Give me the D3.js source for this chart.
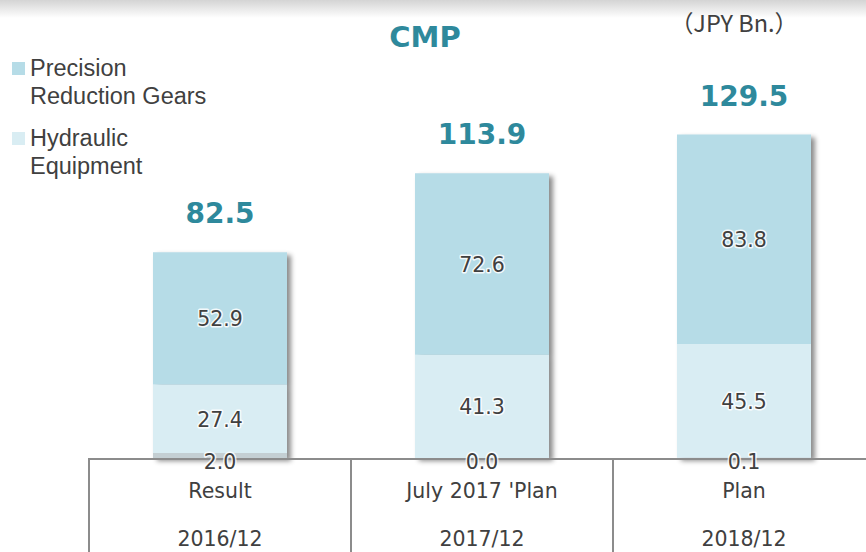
<!DOCTYPE html>
<html lang="en">
<head>
<meta charset="UTF-8">
<title>CMP</title>
<script src="https://d3js.org/d3.v7.min.js"></script>
<style>
  body { margin: 0; background: #fff; }
  svg { display: block; }
  text { fill: #404040; }
</style>
</head>
<body>
<div id="chart"></div>
<script>
// chart data
const categories = ["Result", "July 2017 'Plan", "Plan"];
const periods = ["2016/12", "2017/12", "2018/12"];
const others = [2.0, 0.0, 0.1];
const hydraulic = [27.4, 41.3, 45.5];
const precision = [52.9, 72.6, 83.8];
const totals = [82.5, 113.9, 129.5];

const W = 866, H = 552;
const baseY = 458;
const teal = "#2e899c";
const colPrecision = "#b6dce7";
const colHydraulic = "#d9edf3";
const colOthers = "#c4cfd3";

const svg = d3.select("#chart").append("svg")
  .attr("width", W).attr("height", H);

const defs = svg.append("defs");
const grad = defs.append("linearGradient").attr("id", "topband")
  .attr("x1", 0).attr("y1", 0).attr("x2", 0).attr("y2", 1);
grad.append("stop").attr("offset", "0%").attr("stop-color", "#d4d4d4");
grad.append("stop").attr("offset", "100%").attr("stop-color", "#ffffff");

const shadow = defs.append("filter").attr("id", "shadow")
  .attr("x", "-10%").attr("y", "-10%").attr("width", "130%").attr("height", "130%");
shadow.append("feDropShadow")
  .attr("dx", 4).attr("dy", 3).attr("stdDeviation", 2.5)
  .attr("flood-color", "#000").attr("flood-opacity", 0.45);

// grey band at the very top
svg.append("rect").attr("x", 0).attr("y", 0).attr("width", W).attr("height", 18)
  .attr("fill", "url(#topband)");

const x = d3.scaleBand().domain(categories).range([89, 875]).paddingInner(0).paddingOuter(0);
const y = d3.scaleLinear().domain([0, 160]).range([baseY, baseY - 400]);
const barW = 134;

const rows = categories.map((c, i) => ({
  cat: c, others: others[i], hydraulic: hydraulic[i], precision: precision[i], total: totals[i]
}));
const keys = ["others", "hydraulic", "precision"];
const colors = { others: colOthers, hydraulic: colHydraulic, precision: colPrecision };
const series = d3.stack().keys(keys)(rows);

const barX = d => x(d.data.cat) + (x.bandwidth() - barW) / 2;

// bars (shadowed group)
const bars = svg.append("g").attr("filter", "url(#shadow)");
series.forEach(s => {
  bars.selectAll(null).data(s).enter().append("rect")
    .attr("x", barX)
    .attr("y", d => y(d[1]))
    .attr("width", barW)
    .attr("height", d => Math.max(0, y(d[0]) - y(d[1])))
    .attr("fill", colors[s.key]);
});

// table lines
const grid = svg.append("g").attr("stroke", "#8c8c8c").attr("stroke-width", 2);
grid.append("line").attr("x1", 88).attr("x2", W).attr("y1", baseY + 1).attr("y2", baseY + 1);
grid.selectAll(null).data(categories).enter().append("line")
  .attr("x1", d => x(d)).attr("x2", d => x(d))
  .attr("y1", baseY).attr("y2", H);

// segment labels
const segLabels = svg.append("g")
  .attr("font-family", "DejaVu Sans, Verdana, sans-serif")
  .attr("font-size", 20.5).attr("text-anchor", "middle")
  .attr("stroke", "#fff").attr("stroke-width", 3).attr("stroke-opacity", 0.85)
  .attr("paint-order", "stroke").attr("stroke-linejoin", "round");
series.filter(s => s.key !== "others").forEach(s => {
  segLabels.selectAll(null).data(s).enter().append("text")
    .attr("x", d => barX(d) + barW / 2)
    .attr("y", d => (y(d[0]) + y(d[1])) / 2 + 8)
    .text(d => d.data[s.key].toFixed(1));
});
segLabels.selectAll(null).data(rows).enter().append("text")
  .attr("x", d => x(d.cat) + x.bandwidth() / 2)
  .attr("y", baseY + 11)
  .text(d => d.others.toFixed(1));

// totals
svg.append("g").selectAll("text").data(series[2]).enter().append("text")
  .attr("x", d => barX(d) + barW / 2)
  .attr("y", d => y(d[1]) - 29)
  .attr("text-anchor", "middle")
  .attr("font-family", "DejaVu Sans, sans-serif")
  .attr("font-weight", "bold").attr("font-size", 28)
  .style("fill", teal)
  .text(d => d.data.total.toFixed(1));

// table text
const tbl = svg.append("g")
  .attr("font-family", "DejaVu Sans, Verdana, sans-serif")
  .attr("font-size", 20.5).attr("text-anchor", "middle");
tbl.selectAll(null).data(categories).enter().append("text")
  .attr("x", d => x(d) + x.bandwidth() / 2).attr("y", 498).text(d => d);
tbl.selectAll(null).data(periods).enter().append("text")
  .attr("x", (d, i) => x(categories[i]) + x.bandwidth() / 2).attr("y", 546).text(d => d);

// title and unit
svg.append("text").attr("x", 425).attr("y", 47).attr("text-anchor", "middle")
  .attr("font-family", "DejaVu Sans, sans-serif").attr("font-weight", "bold")
  .attr("font-size", 29).style("fill", teal).text("CMP");
svg.append("text").attr("x", 734).attr("y", 32).attr("text-anchor", "middle")
  .attr("font-family", "Noto Sans CJK JP, sans-serif").attr("font-size", 23.5)
  .text("（JPY Bn.）");

// legend
const legendItems = [
  { color: colPrecision, lines: ["Precision", "Reduction Gears"], y: 62 },
  { color: colHydraulic, lines: ["Hydraulic", "Equipment"], y: 132 }
];
const lg = svg.append("g").attr("font-family", "Liberation Sans, Arial, sans-serif").attr("font-size", 23.5);
legendItems.forEach(it => {
  lg.append("rect").attr("x", 12).attr("y", it.y).attr("width", 13).attr("height", 13).attr("fill", it.color);
  it.lines.forEach((t, j) => {
    lg.append("text").attr("x", 30).attr("y", it.y + 14 + j * 27.5).text(t);
  });
});
</script>
</body>
</html>
